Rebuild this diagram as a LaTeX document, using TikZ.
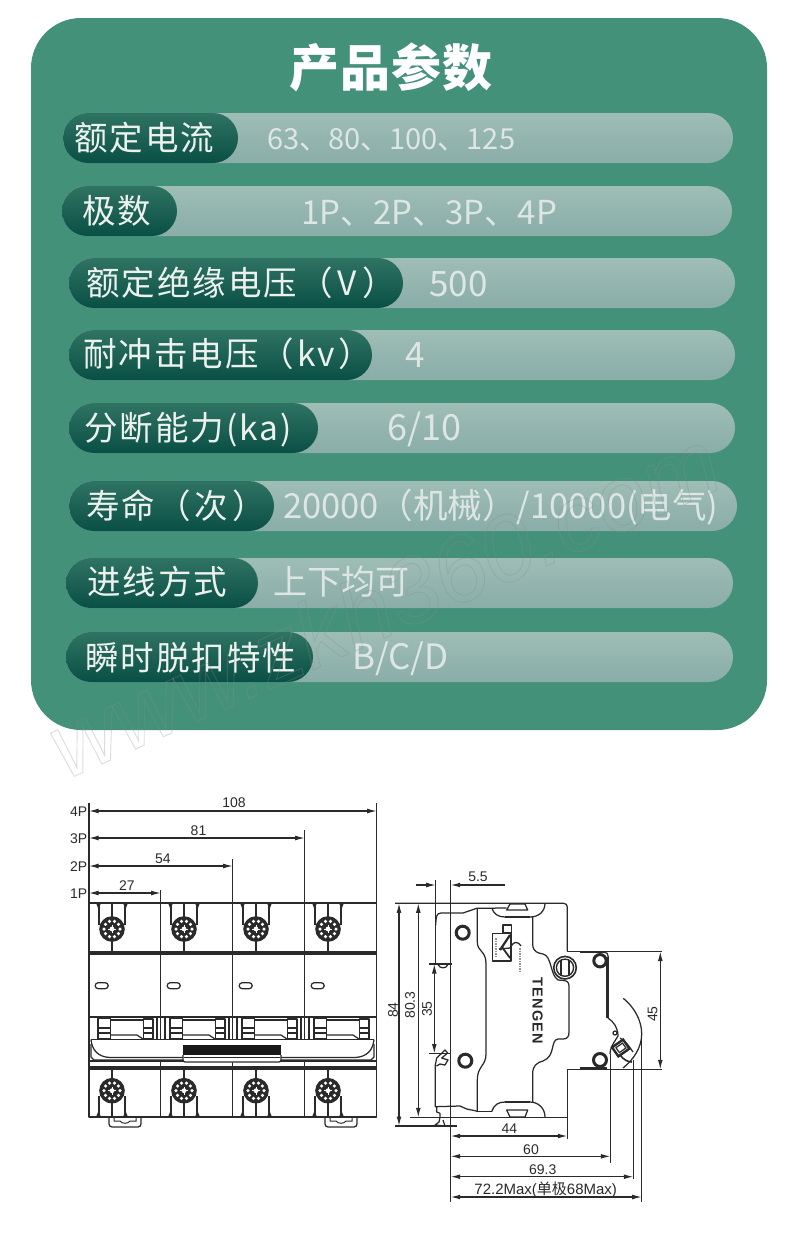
\documentclass[tikz,border=0pt]{standalone}
\usepackage{fontspec}
\usetikzlibrary{arrows.meta}
\setmainfont{Liberation Sans}
\newfontfamily\cjk{Noto Sans CJK SC}
\newfontfamily\cjkL[LetterSpace=6]{Noto Sans CJK SC}
\newfontfamily\cjkT[LetterSpace=2]{Noto Sans CJK SC}
\newfontfamily\brandfont[LetterSpace=9]{Liberation Sans}
\definecolor{panel}{HTML}{44917A}
\definecolor{bartop}{HTML}{9EBDB5}
\definecolor{barbot}{HTML}{8AADA8}
\definecolor{pilltop}{HTML}{2F7363}
\definecolor{pillbot}{HTML}{0A4F45}
\definecolor{labtxt}{HTML}{ECF1EE}
\definecolor{valtxt}{HTML}{DDE6E3}
\definecolor{ink}{HTML}{2A2A2A}
\tikzset{
  x=1pt,y=-1pt,
  barshape/.style={top color=bartop,bottom color=barbot,rounded corners=25pt},
  pillshape/.style={top color=pilltop,bottom color=pillbot,rounded corners=25pt},
  labeltext/.style={anchor=west,inner sep=0pt,text=labtxt,font=\fontsize{33.5}{36}\selectfont\cjkL},
  valuetext/.style={anchor=west,inner sep=0pt,text=valtxt,font=\fontsize{#1}{36}\selectfont\cjk},
  ln/.style={draw=ink,line width=1.25pt,line join=round},
  thin ln/.style={draw=ink,line width=1pt},
  dimline/.style={draw=ink,line width=1.1pt,{Latex[length=9.5pt,width=4.8pt]}-{Latex[length=9.5pt,width=4.8pt]}},
  dimone/.style={draw=ink,line width=1.1pt,-{Latex[length=9.5pt,width=4.8pt]}},
  dimtext/.style={inner sep=0pt,text=ink,font=\fontsize{14}{16}\selectfont},
  bolt/.style={draw=ink,line width=3pt,fill=white},
}
\newcommand{\screwhead}[2]{%
  \fill[ink] (#1,#2) circle (12.8);
  \foreach \a in {0,36,...,324} \fill[white] ({#1+8*cos(\a)},{#2+8*sin(\a)}) circle (1.75);
  \fill[white] (#1,#2) circle (2.4);
  \foreach \a in {0,90,180,270} \draw[white,line width=.8pt] (#1,#2) -- ({#1+4*cos(\a)},{#2+4*sin(\a)});
}
\begin{document}
\begin{tikzpicture}
\useasboundingbox (0,0) rectangle (800,1240);
\fill[white] (0,0) rectangle (800,1240);
\fill[panel,rounded corners=50pt] (31,18) rectangle (767,730);
\node[anchor=center,inner sep=0pt,text=white,font=\fontsize{50}{54}\selectfont\cjkT\bfseries] (title) at (391,67) {产品参数};

% bars
\shade[barshape] (63,113) rectangle (733,163);
\shade[pillshape] (63,113) rectangle (238,163);
\shade[barshape] (62,186) rectangle (732,236);
\shade[pillshape] (62,186) rectangle (177,236);
\shade[barshape] (69,258) rectangle (735,308);
\shade[pillshape] (69,258) rectangle (403,308);
\shade[barshape] (69,330) rectangle (735,380);
\shade[pillshape] (69,330) rectangle (372,380);
\shade[barshape] (69,403) rectangle (735,453);
\shade[pillshape] (69,403) rectangle (318,453);
\shade[barshape] (69,481) rectangle (737,531);
\shade[pillshape] (69,481) rectangle (274,531);
\shade[barshape] (66,558) rectangle (733,608);
\shade[pillshape] (66,558) rectangle (258,608);
\shade[barshape] (66,632) rectangle (733,682);
\shade[pillshape] (66,632) rectangle (313,682);

\node[labeltext] (l1) at (74,138) {额定电流};
\node[labeltext] (l2) at (82,211) {极数};
\node[labeltext] (l3) at (86,283) {额定绝缘电压（\hspace{5pt}V\hspace{5pt}）};
\node[labeltext] (l4) at (83,354) {耐冲击电压（\hspace{3pt}kv\hspace{3pt}）};
\node[labeltext] (l5) at (84,429.5) {分断能力(ka)};
\node[labeltext] (l6) at (86,506) {寿命（\hspace{4pt}次\hspace{4pt}）};
\node[labeltext] (l7) at (87,582) {进线方式};
\node[labeltext] (l8) at (85,658) {瞬时脱扣特性};

\node[valuetext=29] (v1) at (267,140) {63、80、100、125};
\node[valuetext=33] (v2) at (301,213.5) {1P、2P、3P、4P};
\node[valuetext=35] (v3) at (429,284) {500};
\node[valuetext=35] (v4) at (405,355) {4};
\node[valuetext=36] (v5) at (387,429.5) {6/10};
\node[valuetext=34.5] (v6) at (283,507.5) {20000（机械）/10000(电气)};
\node[valuetext=34] (v7) at (273,582) {上下均可};
\node[valuetext=35] (v8) at (352,658.5) {B/C/D};

% ---------- front view ----------
\foreach \x in {0,72,144,216}{
 \begin{scope}[xshift=\x pt]
  \draw[ln] (99,905) -- (99,925);
  \draw[ln] (125,905) -- (125,925);
  \fill[ink] (96,903) -- (101,903) -- (98.5,909) -- cycle;
  \fill[ink] (123,903) -- (128,903) -- (125.5,909) -- cycle;
  \draw[ln] (112,903) -- (112,918) (112,940) -- (112,952);
  \screwhead{112}{929}
  \draw[ln,rounded corners=3pt] (95.2,982.7) rectangle (108.2,988.7);
  % contact row
  \draw[ln] (98,1018) rectangle (110.7,1039);
  \draw[ink,line width=2.4pt] (98,1018) -- (110.7,1018);
  \draw[ln] (98,1028) -- (110.7,1028) (98,1033) -- (110.7,1033);
  \draw[ln] (143.7,1019) rectangle (153,1039);
  \draw[ink,line width=2pt] (143.7,1019) -- (153,1019);
  \draw[ln] (143.7,1028) -- (153,1028) (143.7,1033) -- (153,1033);
  \draw[ln] (110.7,1020) -- (143.7,1020);
  \draw[ln] (110.7,1035) -- (137,1035) -- (143,1039);
  % bottom
  \draw[ln] (99,1096) -- (99,1115);
  \draw[ln] (125,1096) -- (125,1115);
  \fill[ink] (96,1117) -- (101,1117) -- (98.5,1111) -- cycle;
  \fill[ink] (123,1117) -- (128,1117) -- (125.5,1111) -- cycle;
  \draw[ln] (112,1070) -- (112,1079) (112,1102) -- (112,1117);
  \screwhead{112}{1090.7}
 \end{scope}
}
\draw[ln] (89,803) -- (89,1117) -- (376.7,1117) -- (376.7,803);
\draw[ln] (160.7,890) -- (160.7,1039) (160.7,1061) -- (160.7,1117);
\draw[ln] (232.7,859) -- (232.7,1039) (232.7,1061) -- (232.7,1117);
\draw[ln] (304.7,830) -- (304.7,1039) (304.7,1061) -- (304.7,1117);
\draw[ln] (157,1017) -- (157,1039) (229,1017) -- (229,1039) (301,1017) -- (301,1039) (165,1017) -- (165,1039) (237,1017) -- (237,1039) (309,1017) -- (309,1039);
\draw[ln] (89,903) -- (376.7,903);
\draw[ink,line width=3.6pt] (89,952.7) -- (376.7,952.7);
\draw[ln] (89,1017) -- (376.7,1017);
\draw[ln] (89,1061) -- (376.7,1061);
\draw[ink,line width=3.6pt] (89,1068) -- (376.7,1068);
% handle
\path[fill=white] (91,1039.5) -- (374,1039.5) -- (374,1060) -- (91,1060) -- cycle;
\draw[ln] (91,1039.5) -- (374,1039.5);
\draw[ln] (91,1039.5) .. controls (92,1050) and (98,1057) .. (110,1057.5) -- (183,1057.5);
\draw[ln] (374,1039.5) .. controls (373,1050) and (367,1057) .. (355,1057.5) -- (281,1057.5);
\draw[ln] (91,1044) -- (91,1057) -- (94,1060) -- (183,1060);
\draw[ln] (374,1044) -- (374,1057) -- (371,1060) -- (281,1060);
\fill[black!90] (183,1044.5) rectangle (281,1055);
\draw[ln,fill=white,rounded corners=2pt] (183,1055) -- (183,1062) -- (281,1062) -- (281,1055);
\draw[ink,line width=1.6pt] (184,1057.5) -- (280,1057.5);
% clips
\foreach \x in {0,216}{
 \begin{scope}[xshift=\x pt]
  \draw[ln,rounded corners=3pt] (109,1117) -- (109,1127) -- (141,1127) -- (141,1117);
  \draw[thin ln] (114,1118) -- (114,1121) -- (120,1121) .. controls (122,1124) and (128,1124) .. (130,1121) -- (136,1121) -- (136,1118);
 \end{scope}
}
% front dimensions
\coordinate (d4a) at (89,811); \coordinate (d4b) at (376.7,811);
\coordinate (d3a) at (89,838); \coordinate (d3b) at (304.7,838);
\coordinate (d2a) at (89,866); \coordinate (d2b) at (232.7,866);
\coordinate (d1a) at (89,893); \coordinate (d1b) at (160.7,893);
\draw[dimline] (d4a) -- (d4b);
\draw[dimline] (d3a) -- (d3b);
\draw[dimline] (d2a) -- (d2b);
\draw[dimline] (d1a) -- (d1b);
\node[dimtext] (t108) at (234,802.5) {108};
\node[dimtext] (t81) at (198.5,830.5) {81};
\node[dimtext] (t54) at (163,858.5) {54};
\node[dimtext] (t27) at (127,886) {27};
\node[dimtext,anchor=east] (p4) at (87.5,811.5) {4P};
\node[dimtext,anchor=east] (p3) at (87.5,838.5) {3P};
\node[dimtext,anchor=east] (p2) at (87.5,866.5) {2P};
\node[dimtext,anchor=east] (p1) at (87.5,893.5) {1P};

% ---------- side view ----------
\draw[ln] (395,903.3) -- (563.7,903.3) .. controls (566,903.3) and (567.3,905) .. (567.3,907) -- (567.3,951);
\draw[ln] (410,1117.3) -- (567.3,1117.3);
\draw[ln] (395,1126) -- (456.7,1126);
\draw[ln] (435.7,880) -- (435.7,964);
\draw[ln] (450.7,880) -- (450.7,1201.7);
\draw[ln] (429,964) -- (451.7,964);
\draw[ln] (429,1053.5) -- (450.7,1053.5);
\draw[ln] (438,964.5) .. controls (440,969) and (446,969) .. (448,964.5);
% upper body
\draw[ln] (435.7,925) .. controls (436,918) and (436,913) .. (441,913) -- (463,913) -- (476.7,908.3) -- (506.7,908);
\draw[ln] (491.7,908) .. controls (494,914) and (498,917) .. (505,917) -- (530,917) .. controls (538,917) and (545,912) .. (545,903.3);
\draw[ln,line width=1.8pt] (505,917) -- (530,917);
\draw[ln] (506.7,910) -- (510,904) -- (525,904) -- (527.7,910) -- cycle;
\draw[ln] (477.3,908) -- (477.3,942) .. controls (477.3,952) and (486,950) .. (486,964) -- (486,1054) .. controls (486,1066) and (477.3,1066) .. (477.3,1080) -- (477.3,1111.5);
\draw[ln] (532.7,917) -- (532.7,944) .. controls (532.7,952) and (538,953) .. (543,954) .. controls (552,956) and (550,975) .. (558,980) -- (564,980.5) .. controls (568,981) and (569,983) .. (569,987) -- (569,1032) .. controls (569,1037) and (567,1039) .. (563,1039) -- (558,1039) .. controls (550,1040) and (556,1056) .. (543,1061) .. controls (536,1063) and (532.7,1066) .. (532.7,1074) -- (532.7,1102);
% lower body
\draw[ln] (478,1111.5) -- (475,1110.7) -- (466.7,1109) -- (460,1106) -- (435.3,1106.7) -- (435.3,1065) -- (436.7,1058) -- (445,1050) -- (447.7,1053) -- (441.7,1058) -- (448,1060) -- (445,1065) -- (440,1064) -- (436.5,1066);
\draw[ln] (436.7,1106.7) -- (436.7,1112) -- (440,1113.3) -- (440,1117.3) -- (439,1122) -- (435,1125) -- (445,1126) -- (443,1120);
\draw[ln] (477.3,1111.5) -- (491.7,1111.5);
\draw[ln] (491.7,1111.5) .. controls (494,1105) and (498,1102) .. (505,1102) -- (530,1102) .. controls (538,1102) and (545,1108) .. (545,1117);
\draw[ln,line width=1.8pt] (505,1102) -- (530,1102);
\draw[ln] (506.7,1110) -- (510,1117) -- (525,1117) -- (527.7,1110) -- cycle;
% symbol
\draw[ln] (492.3,933.3) rectangle (511,961);
\draw[ln] (503,925) -- (511.7,925) -- (511.7,933) -- (503,933) -- cycle;
\draw[ink,line width=2.2pt] (500,950) -- (510,935);
\draw[ink,line width=1.8pt] (502,947) -- (510,958);
\draw[ink,line width=1.3pt] (499,949) -- (510,948) .. controls (513,942) and (517,940) .. (521,946);
\draw[ink!50,line width=2pt,dash pattern=on 1.5pt off 1pt] (496,938) -- (496,957);
\draw[ink!50,line width=2pt,dash pattern=on 1.5pt off 1pt] (520,948) -- (520,973);
% bolts
\draw[bolt] (462.7,932.7) circle (6.5);
\draw[bolt] (465.3,1060.7) circle (6.5);
\draw[bolt] (600,960.7) circle (6.2);
\draw[bolt] (600,1060) circle (6.5);
\draw[ln,fill=white,line width=1.6pt] (565,967.7) circle (11.3);
\draw[ln,line width=1.4pt] (565,967.7) circle (8.6);
\draw[ln] (561,960) -- (561,975.5) (569,960) -- (569,975.5);
\node[inner sep=0pt,rotate=-90,text=ink,font=\fontsize{14.5}{16}\selectfont\brandfont\bfseries] (brand) at (537.5,1010.7) {TENGEN};
% right step
\draw[ln] (567.3,951.5) -- (661.7,951.5);
\draw[ink,line width=2.4pt] (580,952) -- (604,952);
\draw[ln] (604,952) .. controls (607,952) and (608.3,954) .. (608.3,957) -- (608.3,1018);
\draw[ink,line width=2pt] (606.7,957) -- (606.7,1018);
\draw[ln] (608,1018) .. controls (614,1022) and (618,1028) .. (618,1036) .. controls (613,1044) and (610,1048) .. (610,1054);
\draw[ln] (615,1033) circle (2);
\begin{scope}[rotate around={35:(620.7,1048)}]
 \draw[ink,line width=2.4pt] (614,1042.5) rectangle (627.5,1053.5);
 \draw[ink,line width=1.2pt] (617,1045) rectangle (625,1051);
\end{scope}
\draw[ln] (623.3,998.3) .. controls (634,1007) and (641.7,1020) .. (641.7,1034) .. controls (641.7,1048) and (633,1060) .. (623,1068);
\draw[ln] (620,1038) .. controls (625,1041) and (630,1047) .. (633,1052);
\draw[ink,line width=1.6pt] (620,1055) .. controls (624,1060) and (628,1062) .. (632,1062);
% lower step
\draw[ln] (567.3,1069.3) -- (661.7,1069.3);
\draw[ink,line width=2.4pt] (580,1068.5) -- (607,1068.5);
\draw[ln] (567.3,1069.3) -- (567.3,1139.3);
\draw[ln] (610.3,1054) -- (610.3,1162.7);
\draw[ln] (633.3,1060) -- (633.3,1179.3);
\draw[ln] (641.7,1034) -- (641.7,1201.7);
% side dimensions
\coordinate (e84a) at (399,903.3); \coordinate (e84b) at (399,1126);
\coordinate (e80a) at (418.3,903.3); \coordinate (e80b) at (418.3,1117.3);
\coordinate (e35a) at (434.3,964); \coordinate (e35b) at (434.3,1053.5);
\coordinate (e45a) at (660.3,951.5); \coordinate (e45b) at (660.3,1069.3);
\coordinate (e44a) at (450.7,1136); \coordinate (e44b) at (567.3,1136);
\coordinate (e60a) at (450.7,1156.3); \coordinate (e60b) at (610.3,1156.3);
\coordinate (e69a) at (450.7,1176.7); \coordinate (e69b) at (633.3,1176.7);
\coordinate (e72a) at (450.7,1197); \coordinate (e72b) at (641.7,1197);
\coordinate (e55a) at (415.7,885); \coordinate (e55b) at (435.7,885);
\coordinate (e55c) at (505,885); \coordinate (e55d) at (450.7,885);
\draw[dimline] (e84a) -- (e84b);
\draw[dimline] (e80a) -- (e80b);
\draw[dimline] (e35a) -- (e35b);
\draw[dimline] (e45a) -- (e45b);
\draw[dimline] (e44a) -- (e44b);
\draw[dimline] (e60a) -- (e60b);
\draw[dimline] (e69a) -- (e69b);
\draw[dimline] (e72a) -- (e72b);
\draw[dimone] (e55a) -- (e55b);
\draw[dimone] (e55c) -- (e55d);
\node[dimtext] (t55) at (478,877) {5.5};
\node[dimtext,rotate=90] (t84) at (393,1010) {84};
\node[dimtext,rotate=90] (t803) at (410,1005) {80.3};
\node[dimtext,rotate=90] (t35) at (427,1009) {35};
\node[dimtext,rotate=90] (t45) at (652.7,1014) {45};
\node[dimtext] (t44) at (509.3,1129) {44};
\node[dimtext] (t60) at (531,1149.3) {60};
\node[dimtext] (t693) at (542.7,1170) {69.3};
\node[dimtext,font=\fontsize{15}{16}\selectfont] (t722) at (545.7,1190) {72.2Max({\cjk 单极}68Max)};

% watermark
\node[anchor=base west,inner sep=0pt,rotate=24,opacity=.3,text=black!45,font=\fontsize{93}{93}\selectfont\itshape] (wm) at (66,780) {\special{pdf:code 1 Tr 0.9 w}www.zkh360.com\special{pdf:code 0 Tr 1 w}};
\end{tikzpicture}
\end{document}
